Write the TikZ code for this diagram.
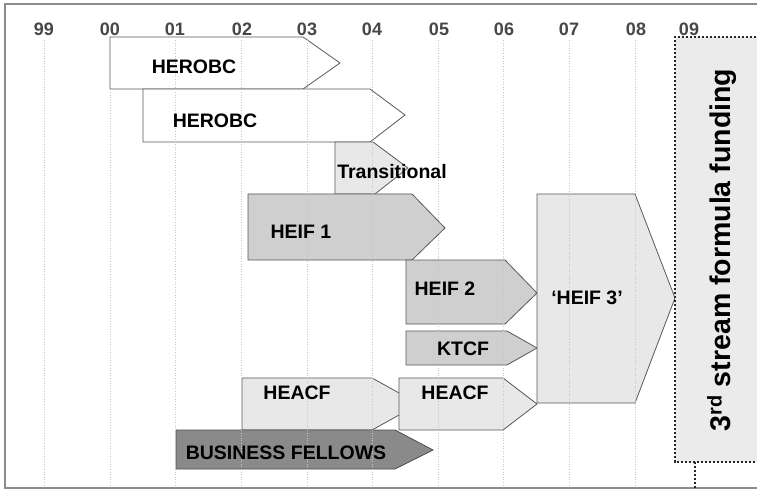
\documentclass[tikz,border=0pt]{standalone}
\usepackage{fontspec}
\setmainfont{Liberation Sans}
\begin{document}
\begin{tikzpicture}[x=1pt,y=-1pt,
  bar/.style={draw=black!65, line width=0.8pt, line join=miter},
  lightbar/.style={bar, fill=black!9},
  midbar/.style={bar, fill=black!19},
  darkbar/.style={bar, draw=black!70, fill=black!46},
  gridline/.style={draw=black!22, line width=0.6pt, dotted},
  dashedge/.style={draw=black!85, line width=1.1pt, dash pattern=on 2.2pt off 1.8pt},
  yearlabel/.style={font=\fontsize{18}{20}\selectfont\bfseries, text=black!72, inner sep=0pt},
  barlabel/.style={font=\fontsize{19.5}{22}\selectfont\bfseries, inner sep=0pt}]
\useasboundingbox (0,0) rectangle (757,489);
\fill[white] (0,0) rectangle (757,489);
% outer frame
\draw[black!45, line width=1.8pt] (760,4) -- (5,4) -- (5,488) -- (760,488);

% funding streams
\draw[bar, fill=white] (110,37) -- (303,37) -- (340,63) -- (303,89) -- (110,89) -- cycle;
\draw[bar, fill=white] (143,89) -- (370,89) -- (405,115) -- (370,142) -- (143,142) -- cycle;
\draw[lightbar] (335,142) -- (373,142) -- (408,168) -- (375,194) -- (335,194) -- cycle;
\draw[midbar] (248,194) -- (412,194) -- (445,228) -- (412,260) -- (248,260) -- cycle;
\draw[midbar] (406,260) -- (505,260) -- (537,293) -- (505,324) -- (406,324) -- cycle;
\draw[midbar] (406,331) -- (507,331) -- (537,348) -- (507,365) -- (406,365) -- cycle;
\draw[lightbar] (242,378) -- (372,378) -- (419,404) -- (372,430) -- (242,430) -- cycle;
\draw[lightbar] (399,378) -- (503,378) -- (537,404) -- (503,430) -- (399,430) -- cycle;
\draw[darkbar] (176,430) -- (395,430) -- (433,450) -- (395,469) -- (176,469) -- cycle;
\draw[lightbar] (537,194) -- (635,194) -- (675,298) -- (635,403) -- (537,403) -- cycle;

% year grid
\foreach \i in {0,...,9}
  \draw[gridline] ({44.5+65.6*\i},40) -- ({44.5+65.6*\i},487);

% third stream block
\draw[dashedge, fill=black!8] (760,37) -- (675,37) -- (675,462) -- (760,462);
\draw[dashedge] (695,462) -- (695,488);
\node[rotate=90, font=\fontsize{28.5}{30}\selectfont\bfseries, inner sep=0pt] (third) at (722,250) {3\textsuperscript{rd} stream formula funding};

% year labels
\node[yearlabel] (y99) at (44,29) {99};
\node[yearlabel] (y00) at (110,29) {00};
\node[yearlabel] (y01) at (175,29) {01};
\node[yearlabel] (y02) at (242,29) {02};
\node[yearlabel] (y03) at (307,29) {03};
\node[yearlabel] (y04) at (372,29) {04};
\node[yearlabel] (y05) at (439,29) {05};
\node[yearlabel] (y06) at (504,29) {06};
\node[yearlabel] (y07) at (569,29) {07};
\node[yearlabel] (y08) at (636,29) {08};
\node[yearlabel] (y09) at (689,29) {09};

% bar labels
\node[barlabel] (herobcA) at (194,67) {HEROBC};
\node[barlabel] (herobcB) at (215,121) {HEROBC};
\node[barlabel] (trans) at (392,172) {Transitional};
\node[barlabel] (heifA) at (301,232) {HEIF 1};
\node[barlabel] (heifB) at (445,289) {HEIF 2};
\node[barlabel] (ktcf) at (463,349) {KTCF};
\node[barlabel] (heacfA) at (297,393) {HEACF};
\node[barlabel] (heacfB) at (455,393) {HEACF};
\node[barlabel] (bf) at (286,453) {BUSINESS FELLOWS};
\node[barlabel] (heifC) at (587,298) {`HEIF 3'};
\end{tikzpicture}
\end{document}
